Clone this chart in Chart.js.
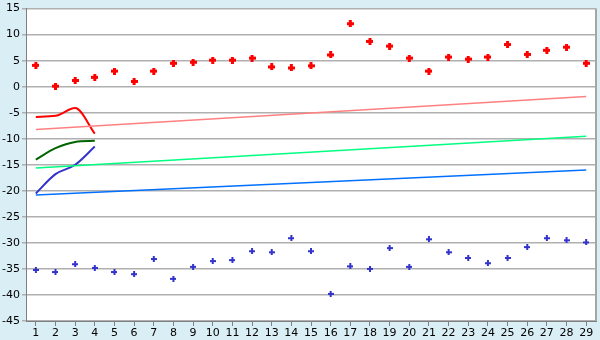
<!DOCTYPE html>
<html>
<head>
<meta charset="utf-8">
<script src="https://cdn.jsdelivr.net/npm/chart.js@4/dist/chart.umd.min.js"></script>
<style>
  html, body { margin: 0; padding: 0; background: #daeef5; }
  #wrap { width: 600px; height: 340px; }
</style>
</head>
<body>
<div id="wrap"><canvas id="chart"></canvas></div>
<script>
// categories 1..29
var labels = ['1','2','3','4','5','6','7','8','9','10','11','12','13','14','15','16','17','18','19','20','21','22','23','24','25','26','27','28','29'];

// scattered points
var redPoints = [4.1, 0.1, 1.2, 1.8, 3.0, 1.0, 3.0, 4.5, 4.7, 5.1, 5.1, 5.5, 3.8, 3.6, 4.0, 6.1, 12.1, 8.7, 7.8, 5.5, 3.0, 5.7, 5.3, 5.7, 8.1, 6.2, 7.0, 7.6, 4.5];
var bluePoints = [-35.2, -35.6, -34.1, -34.8, -35.6, -36.0, -33.1, -36.9, -34.6, -33.5, -33.3, -31.6, -31.8, -29.1, -31.6, -39.8, -34.5, -35.0, -31.0, -34.6, -29.3, -31.8, -32.9, -33.9, -32.9, -30.8, -29.1, -29.5, -29.9];

// short lines, first four categories
var redLine = [-5.8, -5.6, -4.1, -9.0];
var greenLine = [-14.0, -11.8, -10.6, -10.4];
var blueLine = [-20.5, -16.8, -15.0, -11.5];

// trend lines, values at first and last category
var pinkTrend = [-8.2, -1.9];
var greenTrend = [-15.6, -9.5];
var blueTrend = [-20.8, -16.0];

var yTicks = { min: -45, max: 15, step: 5 };

function ends(pair) {
    var arr = labels.map(function () { return null; });
    arr[0] = pair[0];
    arr[labels.length - 1] = pair[1];
    return arr;
}

function plusMark(color, size, arm) {
    var c = document.createElement('canvas');
    c.width = size; c.height = size;
    var g = c.getContext('2d');
    g.fillStyle = color;
    var o = (size - arm) / 2;
    g.fillRect(o, 0, arm, size);
    g.fillRect(0, o, size, arm);
    return c;
}

var redMark = plusMark('#ff0000', 7, 3);
var blueMark = plusMark('#3333cc', 6, 2);

var bgPlugin = {
    id: 'bg',
    beforeDraw: function (chart) {
        var ctx = chart.ctx, a = chart.chartArea;
        ctx.save();
        ctx.fillStyle = '#daeef5';
        ctx.fillRect(0, 0, chart.width, chart.height);
        ctx.fillStyle = '#ffffff';
        ctx.fillRect(a.left, a.top, a.right - a.left, a.bottom - a.top);
        ctx.restore();
    },
    afterDraw: function (chart) {
        var ctx = chart.ctx, a = chart.chartArea;
        ctx.save();
        ctx.strokeStyle = '#a6a6a6';
        ctx.lineWidth = 2;
        ctx.beginPath();
        ctx.moveTo(a.right, a.top);
        ctx.lineTo(a.right, a.bottom);
        ctx.stroke();
        ctx.restore();
    }
};

new Chart(document.getElementById('chart'), {
    type: 'line',
    data: {
        labels: labels,
        datasets: [
            { data: ends(pinkTrend), borderColor: '#ff8080', borderWidth: 1.5, pointRadius: 0, spanGaps: true, tension: 0 },
            { data: ends(greenTrend), borderColor: '#00ff80', borderWidth: 1.5, pointRadius: 0, spanGaps: true, tension: 0 },
            { data: ends(blueTrend), borderColor: '#0070ff', borderWidth: 1.5, pointRadius: 0, spanGaps: true, tension: 0 },
            { data: redLine, borderColor: '#ff0000', borderWidth: 2, pointRadius: 0, cubicInterpolationMode: 'monotone' },
            { data: greenLine, borderColor: '#006400', borderWidth: 2, pointRadius: 0, cubicInterpolationMode: 'monotone' },
            { data: blueLine, borderColor: '#3333cc', borderWidth: 2, pointRadius: 0, cubicInterpolationMode: 'monotone' },
            { data: redPoints, showLine: false, pointStyle: redMark, pointRadius: 3.5, borderColor: '#ff0000', backgroundColor: '#ff0000' },
            { data: bluePoints, showLine: false, pointStyle: blueMark, pointRadius: 3, borderColor: '#3333cc', backgroundColor: '#3333cc' }
        ]
    },
    options: {
        responsive: true,
        maintainAspectRatio: false,
        animation: false,
        events: [],
        layout: { autoPadding: false, padding: { top: 2, right: 4, left: 0, bottom: 0 } },
        plugins: { legend: { display: false }, tooltip: { enabled: false } },
        scales: {
            x: {
                offset: true,
                grid: { display: true, drawOnChartArea: false, tickLength: 5, color: '#808080', offset: false },
                border: { color: '#808080' },
                ticks: { color: '#000', font: { family: 'DejaVu Sans', size: 11 }, padding: 1, maxRotation: 0, autoSkip: false },
                afterFit: function (s) { s.height = 19; }
            },
            y: {
                min: yTicks.min, max: yTicks.max,
                grid: { color: '#b0b0b0', tickLength: 4, lineWidth: 1.5 },
                border: { color: '#808080' },
                ticks: { stepSize: yTicks.step, color: '#000', font: { family: 'DejaVu Sans', size: 11 }, padding: 2 },
                afterFit: function (s) { s.width = 26; }
            }
        }
    },
    plugins: [bgPlugin]
});
</script>
</body>
</html>
